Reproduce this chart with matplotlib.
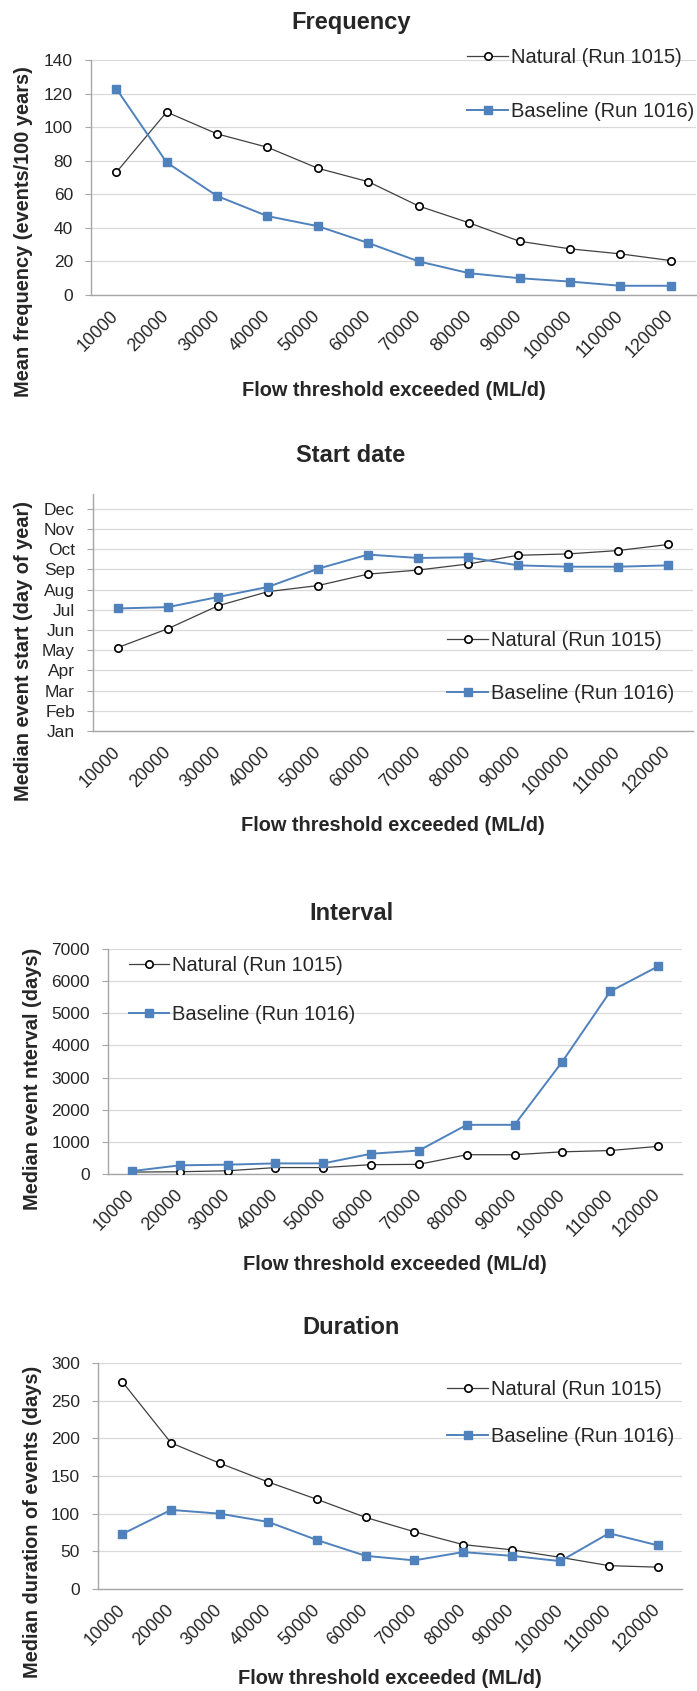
import matplotlib
matplotlib.use("Agg")
import matplotlib.pyplot as plt

plt.rcParams['font.family'] = ['Liberation Sans', 'DejaVu Sans']

W, H = 697, 1691

# Datos comunes
thresholds = ['10000', '20000', '30000', '40000', '50000', '60000',
              '70000', '80000', '90000', '100000', '110000', '120000']
label_nat = 'Natural (Run 1015)'
label_base = 'Baseline (Run 1016)'

# Frecuencia (eventos/100 años)
freq_nat = [73, 109, 96, 88, 75.5, 67.5, 53, 43, 32, 27.5, 24.5, 20.5]
freq_base = [123, 79, 59, 47, 41, 31, 20, 13, 10, 8, 5.5, 5.5]

# Fecha de inicio (día del año)
start_nat = [124, 152, 186, 207, 216, 233, 239, 248, 261, 263, 268, 277]
start_base = [182, 184, 199, 214, 241, 262, 257, 258, 246, 244, 244, 246]
month_ticks = [0, 30, 60, 90, 120, 150, 180, 210, 240, 270, 300, 330]
month_labels = ['Jan', 'Feb', 'Mar', 'Apr', 'May', 'Jun',
                'Jul', 'Aug', 'Sep', 'Oct', 'Nov', 'Dec']

# Intervalo (días)
interval_nat = [60, 70, 100, 200, 200, 290, 300, 600, 600, 690, 730, 860]
interval_base = [90, 270, 290, 330, 330, 630, 730, 1530, 1530, 3500, 5680, 6460]

# Duración (días)
dur_nat = [275, 194, 167, 142, 119, 95, 76, 59, 52, 42, 31, 29]
dur_base = [73, 105, 100, 89, 65, 44, 38, 49, 44, 37, 74, 58]

BLUE = '#4f81bd'
GRID = '#d9d9d9'
SPINE = '#a6a6a6'
TXT = '#262626'


def px_box(left, right, top, bottom):
    return [left / W, 1 - bottom / H, (right - left) / W, (bottom - top) / H]


def draw_panel(fig, box, title, title_y, ylabel, ylabel_xy, xlabel_y,
               nat, base, ylim, yticks, ylabels, leg_loc, leg_xy, leg_space):
    left, right, top, bottom = box
    ax = fig.add_axes(px_box(left, right, top, bottom))
    x = list(range(1, len(thresholds) + 1))

    ax.plot(x, nat, '-', color='#404040', lw=0.9, marker='o', ms=5.3,
            mfc='white', mec='black', mew=1.2, label=label_nat, zorder=3)
    ax.plot(x, base, '-', color=BLUE, lw=1.4, marker='s', ms=5.5,
            mfc=BLUE, mec=BLUE, label=label_base, zorder=3)

    ax.set_xlim(0.5, len(thresholds) + 0.5)
    ax.set_ylim(*ylim)
    ax.set_yticks(yticks)
    if ylabels is not None:
        ax.set_yticklabels(ylabels)
    ax.set_xticks(x)
    ax.set_xticklabels(thresholds, rotation=45, ha='right', va='center',
                       rotation_mode='anchor')

    ax.grid(axis='y', color=GRID, lw=0.9)
    ax.set_axisbelow(True)
    for s in ['top', 'right']:
        ax.spines[s].set_visible(False)
    for s in ['left', 'bottom']:
        ax.spines[s].set_color(SPINE)
        ax.spines[s].set_linewidth(1.0)
    ax.tick_params(axis='y', length=4, color=SPINE, pad=9,
                   labelsize=12.5, labelcolor=TXT)
    ax.tick_params(axis='x', length=0, pad=13, labelsize=12.8, labelcolor=TXT)

    # Titulo y etiquetas en coordenadas de figura
    fig.text(351 / W, 1 - title_y / H, title, ha='center', va='center',
             fontsize=17, fontweight='bold', color=TXT)
    fig.text((left + right) / 2 / W, 1 - xlabel_y / H,
             'Flow threshold exceeded (ML/d)', ha='center', va='center',
             fontsize=14.4, fontweight='bold', color=TXT)
    fig.text(ylabel_xy[0] / W, 1 - ylabel_xy[1] / H, ylabel, rotation=90,
             ha='center', va='center', fontsize=14.4, fontweight='bold',
             color=TXT)

    ax.legend(loc=leg_loc, bbox_to_anchor=(leg_xy[0] / W, 1 - leg_xy[1] / H),
              bbox_transform=fig.transFigure, frameon=False, fontsize=14.5,
              handlelength=2.0, handletextpad=0.15, borderpad=0,
              borderaxespad=0, labelspacing=leg_space, labelcolor=TXT)
    return ax


fig = plt.figure(figsize=(W / 100, H / 100), dpi=100)

draw_panel(fig, (91, 696, 60, 295), 'Frequency', 22,
           'Mean frequency (events/100 years)', (24, 232), 390,
           freq_nat, freq_base, (0, 140), list(range(0, 141, 20)), None,
           'upper right', (694, 48), 1.75)

draw_panel(fig, (93, 693, 494, 731), 'Start date', 455,
           'Median event start (day of year)', (24, 651), 825,
           start_nat, start_base, (0, 352), month_ticks, month_labels,
           'upper right', (674, 631), 1.7)

draw_panel(fig, (108, 682, 949, 1174), 'Interval', 913,
           'Median event nterval (days)', (33, 1079), 1265,
           interval_nat, interval_base, (0, 7000), list(range(0, 7001, 1000)),
           None, 'upper left', (129, 956), 1.5)

draw_panel(fig, (98, 682, 1363, 1589), 'Duration', 1327,
           'Median duration of events (days)', (33, 1522), 1678,
           dur_nat, dur_base, (0, 300), list(range(0, 301, 50)), None,
           'upper right', (674, 1380), 1.4)

fig.savefig('out.png', dpi=100)
